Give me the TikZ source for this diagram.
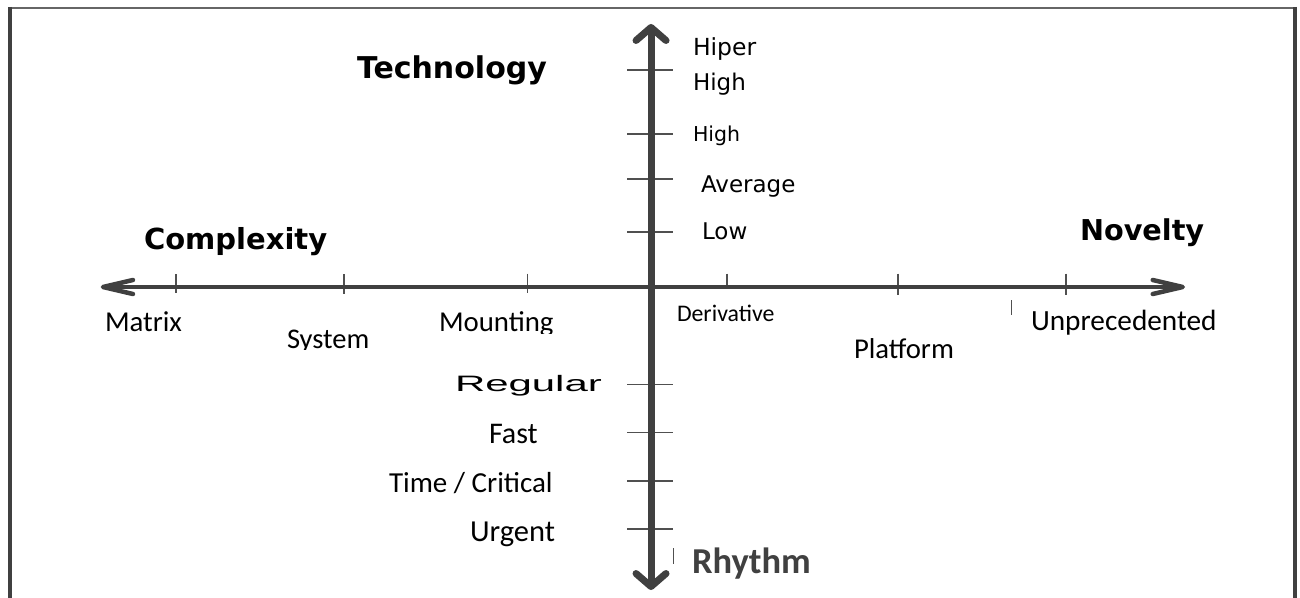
\documentclass[tikz,border=0pt]{standalone}
\usepackage{fontspec}
\usetikzlibrary{arrows.meta}
\newfontfamily\dvfont{DejaVu Sans}
\newfontfamily\carfont{Carlito}
\newfontfamily\libfont{Liberation Sans}
\definecolor{axisgray}{HTML}{404040}
\definecolor{tickgray}{HTML}{505050}
\tikzset{
  lbl/.style={anchor=base west, inner sep=0pt, outer sep=0pt, text=black},
  headbf/.style={lbl, font=\dvfont\bfseries\fontsize{29}{34}\selectfont},
  hax/.style={draw=axisgray, line width=4.5pt,
    arrows={Straight Barb[length=30pt,width=14pt,round]-Straight Barb[length=30pt,width=14pt,round]}},
  vax/.style={draw=axisgray, line width=7pt,
    arrows={Straight Barb[length=13pt,width=30pt,round]-Straight Barb[length=13pt,width=30pt,round]}},
  tickmark/.style={draw=tickgray, line width=1.4pt},
  framev/.style={draw=axisgray, line width=4.5pt},
  frameh/.style={draw=axisgray!80, line width=2.5pt},
}
\begin{document}
\begin{tikzpicture}[x=1pt, y=-1pt]
\useasboundingbox (0,0) rectangle (1300,597);
\fill[white] (0,0) rectangle (1300,597);
% frame
\draw[frameh] (8,8) -- (1297,8);
\draw[framev] (10,6.8) -- (10,600);
\draw[framev] (1295,6.8) -- (1295,600);
% axis end points
\coordinate (hl) at (100.7,287);
\coordinate (hr) at (1185,287);
\coordinate (vt) at (651,24);
\coordinate (vb) at (651,590);
% horizontal axis ticks
\draw[tickmark] (176,274) -- (176,293);
\draw[tickmark] (344,274) -- (344,294);
\draw[tickmark] (527.4,273.5) -- (527.4,293);
\draw[tickmark] (727,273.5) -- (727,287);
\draw[tickmark] (898,273.5) -- (898,294.5);
\draw[tickmark] (1066,273.5) -- (1066,294.5);
\draw[tickmark, line width=1pt] (1011.5,300) -- (1011.5,315);
% vertical axis ticks
\foreach \yy in {70,134,179,232,384.3,432.7,481,529}
  \draw[tickmark, line width=1.2pt] (627,\yy) -- (673,\yy);
\draw[tickmark, line width=1pt] (673,548) -- (673,564);
% axes
\draw[hax] (hl) -- (hr);
\draw[vax] (vb) -- (vt);
% headings
\node[headbf, font=\dvfont\bfseries\fontsize{30}{36}\selectfont] (tech) at (357,78.3) {Technology};
\node[headbf] (compl) at (144,249) {Complexity};
\node[headbf, font=\dvfont\bfseries\fontsize{28.7}{34}\selectfont] (nov) at (1080,240.6) {Novelty};
% technology levels
\node[lbl, font=\dvfont\fontsize{23.5}{28}\selectfont] (hiper) at (693,55) {Hiper};
\node[lbl, font=\dvfont\fontsize{23}{28}\selectfont] (high1) at (693,90) {High};
\node[lbl, font=\dvfont\fontsize{20.5}{24}\selectfont] (high2) at (693,141) {High};
\node[lbl, font=\dvfont\fontsize{23}{28}\selectfont] (avg) at (701,192.3) {Average};
\node[lbl, font=\dvfont\fontsize{23}{28}\selectfont] (low) at (702,239.3) {Low};
% complexity levels
\node[lbl, font=\carfont\fontsize{28.8}{34}\selectfont] (matrix) at (105,331) {Matrix};
\begin{scope}
  \clip (270,300) rectangle (390,349.6);
  \node[lbl, font=\carfont\fontsize{28.5}{34}\selectfont] (system) at (287,348.3) {System};
\end{scope}
\begin{scope}
  \clip (420,300) rectangle (570,333.6);
  \node[lbl, font=\carfont\fontsize{28.8}{34}\selectfont] (mounting) at (439,331) {Mounting};
\end{scope}
% novelty levels
\node[lbl, font=\carfont\fontsize{23.8}{28}\selectfont] (deriv) at (677,321.7) {Derivative};
\node[lbl, font=\carfont\fontsize{28.7}{34}\selectfont] (platform) at (854,358.3) {Platform};
\node[lbl, font=\carfont\fontsize{29.3}{35}\selectfont] (unprec) at (1031,330.7) {Unprecedented};
% rhythm levels
\node[lbl, font=\libfont\fontsize{22.3}{27}\selectfont] (regular) at (455,391) {\scalebox{1.88}[1]{Regular}};
\node[lbl, font=\carfont\fontsize{30}{36}\selectfont] (fast) at (489,443.3) {Fast};
\node[lbl, font=\carfont\fontsize{29}{35}\selectfont] (timecrit) at (389,492.7) {Time / Critical};
\node[lbl, font=\carfont\fontsize{30.5}{36}\selectfont] (urgent) at (470,541.7) {Urgent};
\node[lbl, text=axisgray, font=\carfont\bfseries\fontsize{36.5}{44}\selectfont] (rhythm) at (692,573.3) {Rhythm};
\end{tikzpicture}
\end{document}
